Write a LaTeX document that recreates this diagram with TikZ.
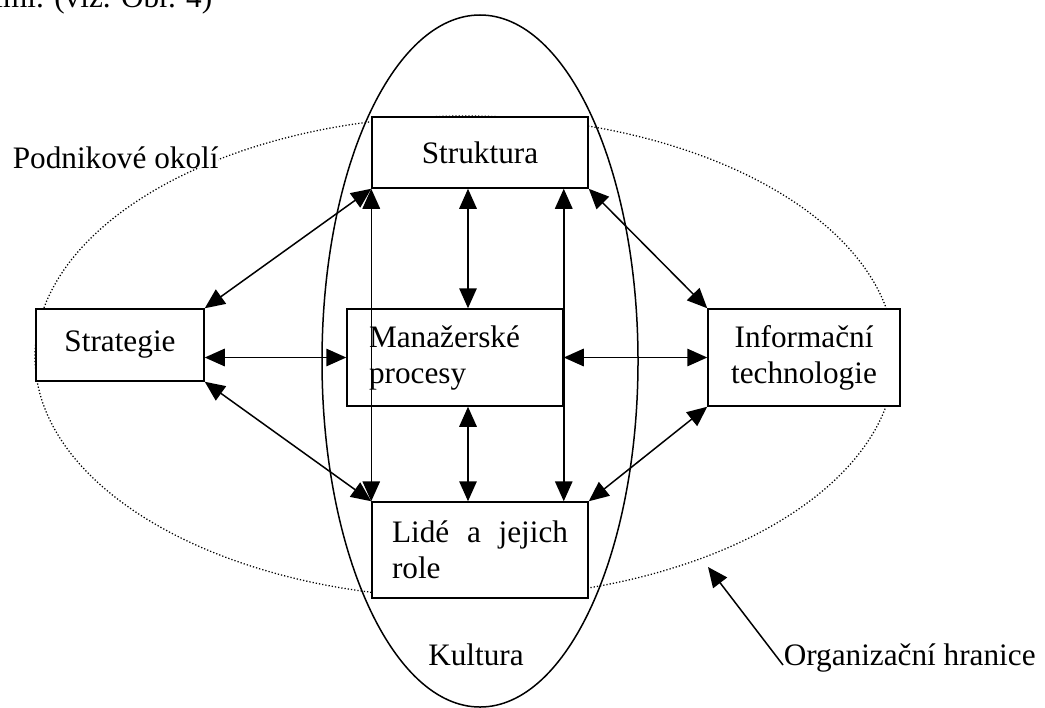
\documentclass[tikz,border=0pt]{standalone}
\usepackage{fontspec}
\setmainfont{Liberation Serif}
\usetikzlibrary{arrows.meta, positioning, shapes}

\begin{document}
\begin{tikzpicture}[x=0.4pt, y=-0.4pt, line width=0.6pt, >={Triangle[length=8pt, width=7pt]},
    every node/.style={font=\fontsize{12.5pt}{14.4pt}\selectfont},
    box/.style={draw, fill=white, rectangle, inner sep=0pt},
    label/.style={inner sep=0pt}]
            \useasboundingbox (0,0) rectangle (1045,707);
            \clip (0,0) rectangle (1045,707);
            \node[label, anchor=base east] (prev) at (213,7) {ními. (viz. Obr. 4)};

            % okoli a kultura
            \draw[line width=0.5pt, dash pattern=on 0.5pt off 0.8pt] (465,357) ellipse [x radius=172pt, y radius=96.4pt];
            \draw (480,361) ellipse [x radius=63.2pt, y radius=138.4pt];

            \node[box, minimum width=86.4pt, minimum height=28.4pt] (struk) at (480,152.5) {Struktura};
            \node[box, minimum width=67.2pt, minimum height=28.8pt] (strat) at (120,345) {Strategie};
            \node[box, text width=68.8pt, inner xsep=8.8pt, minimum height=38.8pt, align=left] (man) at (455,357.5) {Manažerské procesy};
            \node[box, text width=68.8pt, inner xsep=4pt, minimum height=38.8pt, align=center] (info) at (804,357.5) {Informační technologie};
            \node[box, text width=70.4pt, inner xsep=8pt, minimum height=38.4pt, align=justify] (lide) at (480,550) {Lidé a jejich role};
            \coordinate (midx) at (468,357);

            \path[<->] (strat.north east) edge (struk.south west)
                       (strat.south east) edge (lide.north west)
                       (struk.south east) edge (info.north west)
                       (info.south west) edge (lide.north east)
                       (struk.south west) edge (lide.north west)
                       (struk.south -| man.east) edge (lide.north -| man.east)
                       (man.west -| strat.east) edge (man.west)
                       (man.east) edge (info.west)
                       (struk.south -| midx) edge (man.north -| midx)
                       (man.south -| midx) edge (lide.north -| midx);

            \node[label, fill=white, anchor=base west] (okoli) at (12,168) {Podnikové okolí};
            \node[label, anchor=base] (kult) at (476,665) {Kultura};
            \node[label, anchor=base west] (hran) at (783,665) {Organizační hranice};
            \coordinate (hrantip) at (708,567);
            \draw[->] (hran.base west) -- (hrantip);
\end{tikzpicture}
\end{document}
